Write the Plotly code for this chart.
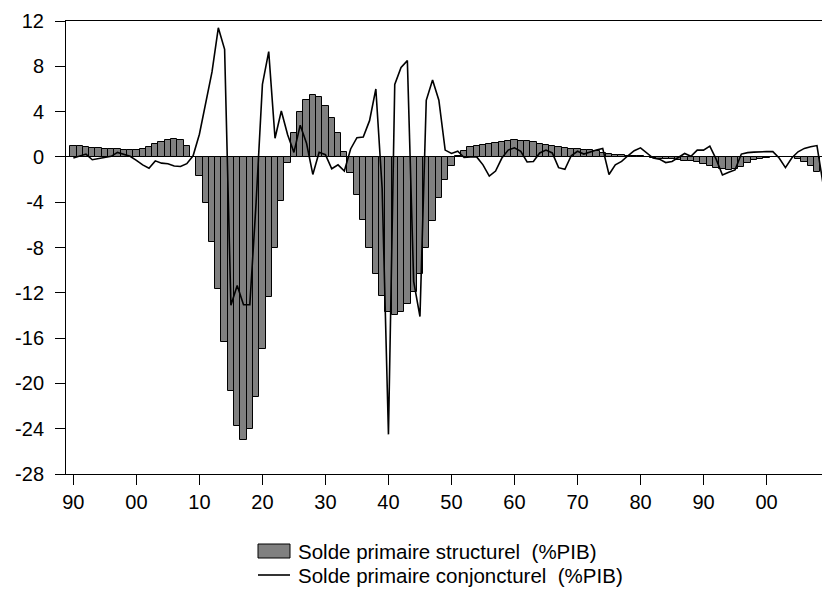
import plotly.graph_objects as go

years = list(range(1890, 2010))

structural = [
    1.0, 0.93, 0.88, 0.8, 0.77, 0.74, 0.7, 0.68, 0.65, 0.65,
    0.65, 0.7, 0.9, 1.1, 1.3, 1.5, 1.55, 1.45, 1.0, 0.0,
    -1.7, -4.1, -7.5, -11.7, -16.3, -20.7, -23.8, -25.0, -24.0, -21.2,
    -17.0, -12.4, -8.0, -3.9, -0.55, 2.1, 3.95, 5.05, 5.45, 5.25,
    4.5, 3.45, 2.1, 0.4, -1.4, -3.4, -5.6, -8.0, -10.3, -12.3,
    -13.7, -13.95, -13.7, -13.0, -11.95, -10.3, -8.0, -5.65, -3.6, -2.0,
    -0.77, 0.1, 0.5, 0.85, 0.96, 1.03, 1.12, 1.23, 1.35, 1.44,
    1.47, 1.44, 1.38, 1.29, 1.17, 1.06, 0.94, 0.85, 0.79, 0.73,
    0.7, 0.65, 0.59, 0.5, 0.35, 0.26, 0.2, 0.18, 0.12, 0.09,
    0.05, 0.0, -0.12, -0.18, -0.2, -0.2, -0.26, -0.32, -0.38, -0.47,
    -0.62, -0.76, -0.94, -1.09, -1.15, -1.06, -0.85, -0.5, -0.26, -0.15,
    -0.06, -0.03, 0.0, 0.0, -0.03, -0.18, -0.41, -0.76, -1.35, None,
]

cyclical = [
    -0.1, 0.1, 0.25, -0.25, -0.15, -0.1, 0.05, 0.4, 0.2, 0.05,
    -0.3, -0.7, -1.0, -0.35, -0.55, -0.6, -0.8, -0.85, -0.6, 0.1,
    2.0, 4.7, 7.5, 11.4, 9.5, -13.1, -11.35, -13.05, -13.05, -4.0,
    6.4, 9.3, 1.65, 4.05, 1.95, 0.4, 2.8, 1.2, -1.55, 0.4,
    0.2, -1.05, -0.7, -1.25, 0.7, 1.7, 1.76, 3.2, 6.0, -2.8,
    -24.5, 6.4, 7.9, 8.5, -11.0, -14.1, 5.0, 6.8, 5.0, 0.6,
    0.3, 0.5, -0.05, 0.0, 0.0, -0.7, -1.7, -1.25, -0.1, 0.6,
    0.8, 0.5, -0.45, -0.4, 0.35, 0.6, 0.35, -0.95, -1.1, 0.1,
    0.5, 0.25, 0.45, 0.6, 0.75, -1.55, -0.7, -0.4, 0.1, 0.55,
    0.8, 0.35, -0.1, -0.2, -0.5, -0.4, -0.05, 0.3, 0.05, 0.6,
    0.6, 0.95, -0.2, -1.6, -1.35, -1.15, 0.25, 0.38, 0.42, 0.47,
    0.47, 0.47, -0.1, -0.95, -0.1, 0.45, 0.75, 0.9, 1.0, -2.5,
]

x_tick_vals = [1890, 1900, 1910, 1920, 1930, 1940, 1950, 1960, 1970, 1980, 1990, 2000]
x_tick_text = ["90", "00", "10", "20", "30", "40", "50", "60", "70", "80", "90", "00"]
y_tick_vals = [12, 8, 4, 0, -4, -8, -12, -16, -20, -24, -28]
y_tick_text = ["12", "8", "4", "0", "-4", "-8", "-12", "-16", "-20", "-24", "-28"]

legend_names = ["Solde primaire structurel\u00a0 (%PIB)", "Solde primaire conjoncturel\u00a0 (%PIB)"]

W, H = 822, 592
L, R, T, B = 66, 0, 21, 118
pw, ph = W - L - R, H - T - B

def px(xp):
    return (xp - L) / pw

def py(yp):
    return (H - B - yp) / ph

FONT = "Liberation Sans, Arial, sans-serif"
TICK_SIZE = 20
LEG_SIZE = 20.5

fig = go.Figure()
fig.add_trace(go.Bar(
    x=years, y=structural, name=legend_names[0],
    marker=dict(color="#808080", line=dict(color="black", width=1)),
    width=1.0, showlegend=False, hoverinfo="skip",
))
fig.add_trace(go.Scatter(
    x=years, y=cyclical, name=legend_names[1], mode="lines",
    line=dict(color="black", width=1.6), showlegend=False, hoverinfo="skip",
))

fig.update_layout(
    width=W, height=H,
    margin=dict(l=L, r=R, t=T, b=B, pad=0),
    plot_bgcolor="white", paper_bgcolor="white",
    bargap=0,
    font=dict(family=FONT, size=TICK_SIZE, color="black"),
    xaxis=dict(
        range=[1888.83, 2008.8], tickmode="array", tickvals=x_tick_vals, ticktext=x_tick_text,
        ticks="outside", ticklen=10, tickcolor="black", tickwidth=1,
        showline=True, linecolor="black", linewidth=1, mirror=True,
        showgrid=False, zeroline=False,
        tickfont=dict(family=FONT, size=TICK_SIZE, color="black"),
    ),
    yaxis=dict(
        range=[-28, 12], tickmode="array", tickvals=y_tick_vals, ticktext=y_tick_text,
        ticks="outside", ticklen=10, tickcolor="black", tickwidth=1,
        ticklabelstandoff=7,
        showline=True, linecolor="black", linewidth=1, mirror=False,
        showgrid=False, zeroline=True, zerolinecolor="black", zerolinewidth=1,
        tickfont=dict(family=FONT, size=TICK_SIZE, color="black"),
    ),
)

# custom legend
LEG_Y = [551, 575]
fig.add_shape(type="rect", xref="paper", yref="paper",
              x0=px(258), x1=px(290), y0=py(LEG_Y[0] + 7), y1=py(LEG_Y[0] - 7),
              fillcolor="#808080", line=dict(color="black", width=1))
fig.add_shape(type="line", xref="paper", yref="paper",
              x0=px(258), x1=px(290), y0=py(LEG_Y[1]), y1=py(LEG_Y[1]),
              line=dict(color="black", width=1.6))
for name, yy in zip(legend_names, LEG_Y):
    fig.add_annotation(text=name, xref="paper", yref="paper", x=px(296), y=py(yy),
                       xanchor="left", yanchor="middle", showarrow=False,
                       font=dict(family=FONT, size=LEG_SIZE, color="black"))

fig.write_html(
    "out.html",
    config={"displayModeBar": False},
    post_script="document.body.style.margin='0';document.body.style.overflow='hidden';",
)
